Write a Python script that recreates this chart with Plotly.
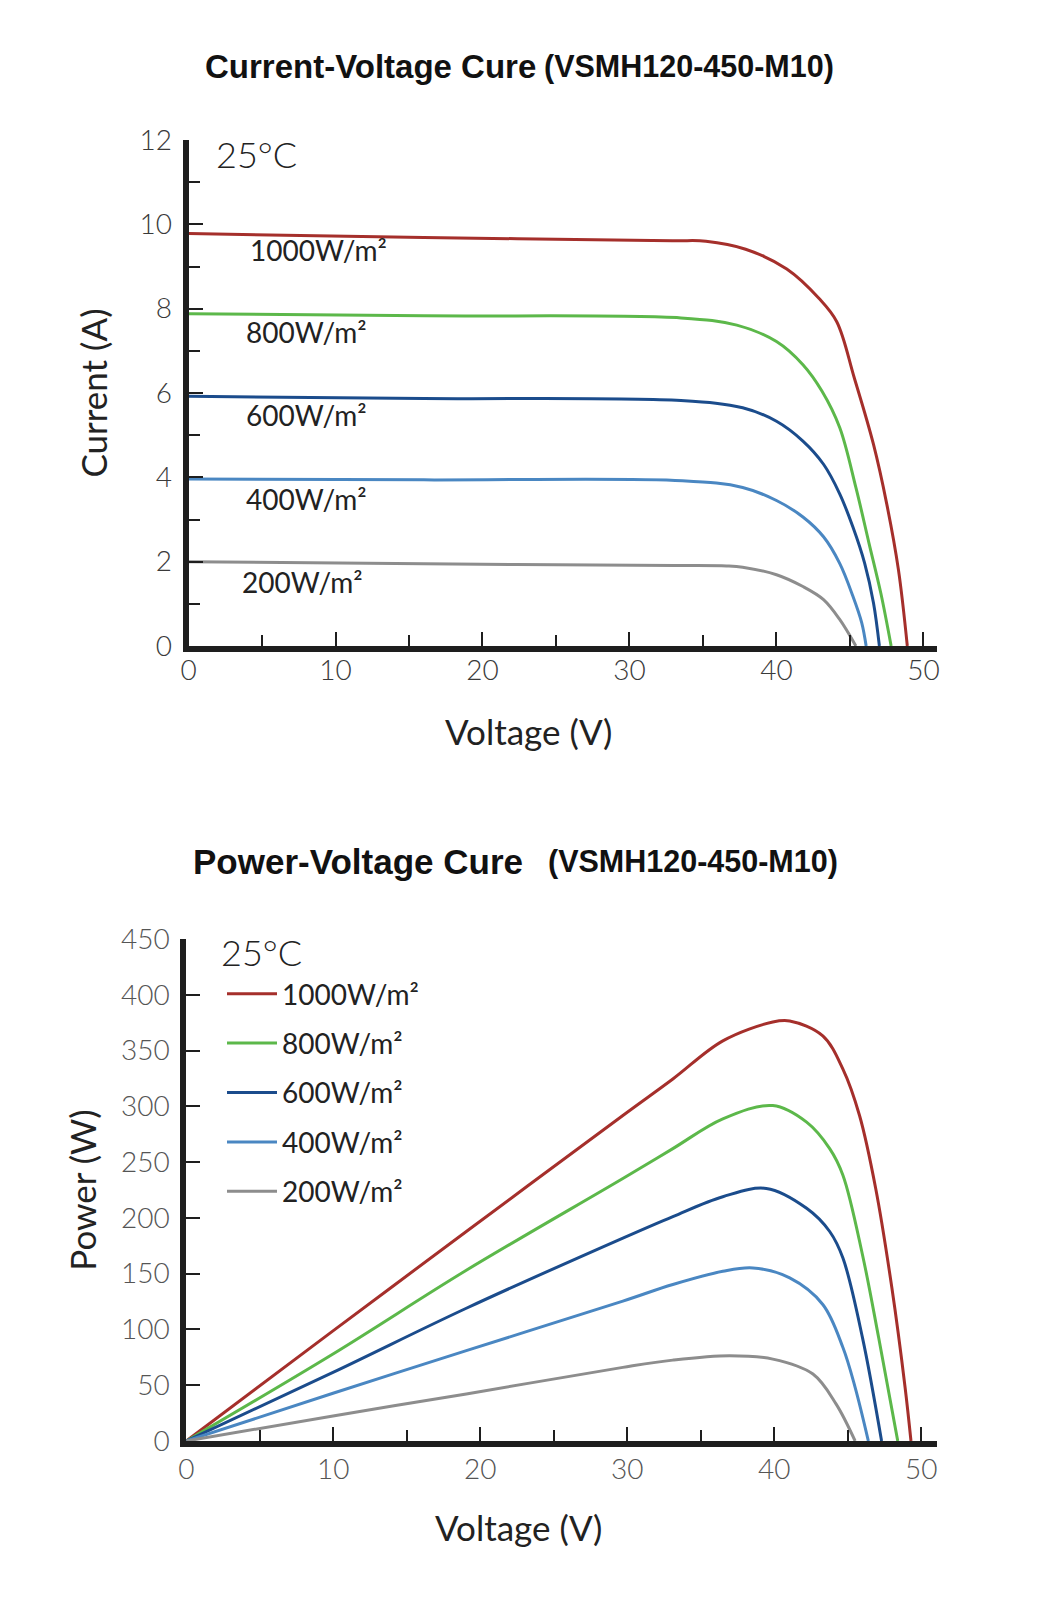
import plotly.graph_objects as go

W, H = 1060, 1610

# ---------------- data ----------------
irradiance_labels = ["1000W/m²", "800W/m²", "600W/m²", "400W/m²", "200W/m²"]
colors = ["#a52f2b", "#5cb84a", "#1b4c8c", "#4a87c2", "#8d8d8d"]

# I-V curves (voltage V, current A)
iv_v_1000 = [0, 16.0, 32.9, 35.2, 37.9, 40.7, 42.9, 44.1, 45.3, 46.6, 47.5, 48.3, 48.9]
iv_i_1000 = [9.78, 9.69, 9.61, 9.60, 9.41, 8.94, 8.24, 7.69, 6.35, 4.78, 3.37, 1.80, 0]
iv_v_800 = [0, 16.0, 33.5, 37.3, 40.0, 41.8, 43.1, 44.3, 45.4, 46.3, 47.1, 47.8]
iv_i_800 = [7.88, 7.83, 7.78, 7.61, 7.22, 6.67, 6.04, 5.18, 3.76, 2.43, 1.25, 0]
iv_v_600 = [0, 16.0, 33.5, 37.7, 40.0, 41.8, 43.2, 44.3, 45.2, 46.0, 46.6, 47.0]
iv_i_600 = [5.92, 5.87, 5.82, 5.65, 5.33, 4.86, 4.31, 3.61, 2.82, 1.96, 1.02, 0]
iv_v_400 = [0, 16.0, 33.6, 37.7, 40.0, 41.8, 43.2, 44.3, 45.2, 45.8, 46.1]
iv_i_400 = [3.96, 3.94, 3.92, 3.76, 3.45, 3.06, 2.59, 1.96, 1.18, 0.55, 0]
iv_v_200 = [0, 16.0, 33.0, 36.6, 37.7, 40.0, 41.8, 43.2, 44.3, 45.4]
iv_i_200 = [2.00, 1.95, 1.91, 1.90, 1.87, 1.69, 1.41, 1.10, 0.63, 0]

# P-V curves (voltage V, power W)
pv_v_1000 = [0, 9.98, 19.05, 29.7, 33.1, 36.5, 39.9, 41.05, 43.3, 44.67, 45.8, 46.9, 48.0, 48.9, 49.3]
pv_p_1000 = [0, 98.7, 187.8, 291.8, 324.5, 358.7, 375.6, 376.5, 363.1, 333.4, 291.8, 226.4, 137.3, 48, 0]
pv_v_800 = [0, 9.98, 19.05, 29.7, 33.1, 36.5, 39.9, 42.2, 43.77, 44.67, 46.0, 47.1, 48.4]
pv_p_800 = [0, 78, 153, 235.3, 262.1, 288.8, 300.7, 285.8, 262.1, 238.3, 167, 92.7, 0]
pv_v_600 = [0, 9.98, 19.05, 29.7, 33.1, 36.5, 39.46, 42.2, 43.77, 44.67, 46.0, 47.3]
pv_p_600 = [0, 61.5, 119, 181.9, 201.2, 219, 226.4, 208.6, 187.8, 164, 92.7, 0]
pv_v_400 = [0, 9.98, 19.05, 29.7, 33.1, 36.5, 38.55, 41.05, 43.3, 44.67, 45.5, 46.4]
pv_p_400 = [0, 42.8, 81, 125.4, 140.3, 152.1, 155.1, 146.2, 122.4, 83.8, 48.1, 0]
pv_v_200 = [0, 9.98, 19.05, 29.7, 33.1, 36.96, 39.9, 42.63, 44.2, 45.5]
pv_p_200 = [0, 22.5, 42.2, 66, 72.5, 76.4, 73.4, 60, 33.3, 0]

iv_v = [iv_v_1000, iv_v_800, iv_v_600, iv_v_400, iv_v_200]
iv_i = [iv_i_1000, iv_i_800, iv_i_600, iv_i_400, iv_i_200]
pv_v = [pv_v_1000, pv_v_800, pv_v_600, pv_v_400, pv_v_200]
pv_p = [pv_p_1000, pv_p_800, pv_p_600, pv_p_400, pv_p_200]

x_ticks = [0, 10, 20, 30, 40, 50]
iv_y_ticks = [0, 2, 4, 6, 8, 10, 12]
pv_y_ticks = [0, 50, 100, 150, 200, 250, 300, 350, 400, 450]

title_top_a = "Current-Voltage Cure"
title_top_b = "(VSMH120-450-M10)"
title_bot_a = "Power-Voltage Cure"
title_bot_b = "(VSMH120-450-M10)"
x_title = "Voltage (V)"
temp_label = "25°C"

# ---------------- figure ----------------
fig = go.Figure()

SMOOTH = 1.0
for k in range(5):
    fig.add_trace(go.Scatter(
        x=iv_v[k], y=iv_i[k], mode="lines", xaxis="x", yaxis="y",
        line=dict(color=colors[k], width=3, shape="spline", smoothing=SMOOTH),
        showlegend=False, hoverinfo="skip"))

for k in range(5):
    fig.add_trace(go.Scatter(
        x=pv_v[k], y=pv_p[k], mode="lines", xaxis="x2", yaxis="y2",
        name=irradiance_labels[k], legendgroup=str(k),
        line=dict(color=colors[k], width=3, shape="spline", smoothing=SMOOTH),
        hoverinfo="skip"))


def px2x(px):
    return px / W


def py2y(py):
    return 1 - py / H


tick_font_top = dict(family="Lato", size=28, color="#3a3a3a", weight=300)
tick_font_bot = dict(family="Lato", size=28, color="#555", weight=300)
axis_title_font = dict(family="Lato", size=35, color="#222")
AX = "#1e1e1e"


def x_axis(**kw):
    d = dict(showline=True, linecolor=AX, linewidth=6, automargin=False,
             ticks="inside", tickcolor=AX, tickwidth=2, ticklen=14,
             tickvals=x_ticks, showgrid=False, zeroline=False,
             minor=dict(dtick=5, ticks="inside", ticklen=11, tickwidth=2, tickcolor=AX))
    d.update(kw)
    return d


def y_axis(**kw):
    d = dict(showline=True, linecolor=AX, linewidth=6, automargin=False,
             ticks="inside", tickcolor=AX, tickwidth=2, ticklen=14,
             showgrid=False, zeroline=False, ticklabelstandoff=5)
    d.update(kw)
    return d


fig.update_layout(
    width=W, height=H,
    margin=dict(l=0, r=0, t=0, b=0, autoexpand=False),
    paper_bgcolor="white", plot_bgcolor="white",
    xaxis=x_axis(domain=[px2x(188.5), px2x(937)], range=[0, 50.92], anchor="y",
                 tickfont=tick_font_top, ticklabelstandoff=-6),
    yaxis=y_axis(domain=[py2y(646), py2y(140)], range=[0, 12], anchor="x",
                 tickvals=iv_y_ticks, tickfont=tick_font_top,
                 minor=dict(dtick=1, ticks="inside", ticklen=11, tickwidth=2, tickcolor=AX),
                 title=dict(text="Current (A)", font=axis_title_font, standoff=23)),
    xaxis2=x_axis(domain=[px2x(186.3), px2x(937)], range=[0, 51.07], anchor="y2",
                  tickfont=tick_font_bot, ticklabelstandoff=-2),
    yaxis2=y_axis(domain=[py2y(1441), py2y(939)], range=[0, 450], anchor="x2",
                  tickvals=pv_y_ticks, tickfont=tick_font_bot,
                  title=dict(text="Power (W)", font=axis_title_font, standoff=16)),
    legend=dict(x=px2x(222), y=py2y(969), xanchor="left", yanchor="top",
                font=dict(family="Lato", size=28, color="#222"),
                bgcolor="rgba(0,0,0,0)", itemwidth=50, tracegroupgap=10,
                traceorder="grouped"),
)

annotations = []


def add_text(txt, x, y, font, xanchor="left"):
    annotations.append(dict(text=txt, x=px2x(x), y=py2y(y), xref="paper", yref="paper",
                            xanchor=xanchor, yanchor="middle", showarrow=False, font=font))


TF = "Liberation Sans"
add_text(f"<b>{title_top_a}</b>", 203, 66, dict(family=TF, size=33, color="#111"))
add_text(f"<b>{title_top_b}</b>", 542, 66, dict(family=TF, size=30.5, color="#111"))
add_text(f"<b>{title_bot_a}</b>", 191, 861, dict(family=TF, size=35, color="#111"))
add_text(f"<b>{title_bot_b}</b>", 546, 861, dict(family=TF, size=30.5, color="#111"))
# x-axis titles
add_text(x_title, 528, 731, axis_title_font, xanchor="center")
add_text(x_title, 518, 1527, axis_title_font, xanchor="center")
# temperature
add_text(temp_label, 214, 154, dict(family="Lato", size=36, color="#222", weight=300))
add_text(temp_label, 219, 952, dict(family="Lato", size=36, color="#222", weight=300))
# curve labels on I-V chart
label_pos = [(248, 250), (244, 332), (244, 415), (244, 499), (240, 582)]
for (lx, ly), txt in zip(label_pos, irradiance_labels):
    add_text(txt, lx, ly, dict(family="Lato", size=28, color="#222"))

fig.update_layout(annotations=annotations)

fig.write_html("out.html", config={"displayModeBar": False},
               post_script="document.body.style.margin='0px';")
